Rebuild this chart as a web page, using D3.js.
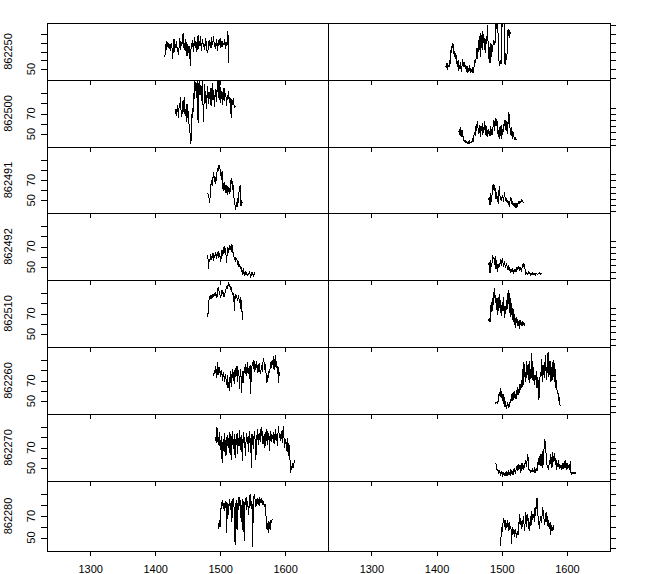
<!DOCTYPE html>
<html><head><meta charset="utf-8">
<script src="https://cdn.jsdelivr.net/npm/d3@7"></script>
<style>
body{margin:0;background:#fff}
svg{display:block}
text{font-family:"Liberation Sans",Arial,sans-serif;font-size:11px;fill:#000}
</style>
</head><body><svg id="c" width="657" height="574"></svg>
<script>
// ---------- data ----------
const sites = ["862250","862500","862491","862492","862510","862260","862270","862280"];
const startLeft  = [1415,1431,1481,1481,1481,1489,1492,1497];
const startRight = [1414,1434,1480,1480,1480,1489,1491,1498];
const xTicks = [1300,1400,1500,1600];
const leftYTicks = [50,60,70,80,90];
const leftYLabels = [50,70];
const rightYTicksTop = [40,50,60,70,80,90,100];
const rightYTicksMid = [40,50,60,70,80,90,100];
const rightYTicksBottom = [40,50,60,70,80,90];

const l862250 = [64,78,72,82,75,80,74,79,71,77, 80,73,61,76,84,70,79,74,82,69, 75,66,78,85,72,81,76,86,91,74, 80,71,84,77,65,79,73,68,76,53, 72,80,75,83,70,78,86,74,81,69, 77,89,73,82,76,88,71,79,84,75, 80,72,78,85,74,70,68,79,83,76, 81,74,86,77,82,88,75,80,73,84, 78,71,83,76,80,85,74,79,82,75, 80,77,84,73,81,76,79,93,57];
const l862500 = [70,74,68,78,72,66,80,75,86,70, 67,77,83,71,86,68,74,62,79,66, 72,60,56,48,40,58,75,66,90,84, 104,92,100,85,106,61,95,104,88,98, 82,96,105,62,75,99,80,92,74,88, 97,79,91,84,95,77,89,100,83,93, 76,87,94,81,90,104,85,105,93,80, 96,84,91,78,89,95,82,90,86,77, 88,83,92,80,86,79,66,84,78,85, 80,75,77];
const l862491 = [57,55,52,47,60,66,70,64,73,78, 68,74,66,71,77,82,79,85,83,80, 76,70,79,62,59,68,63,57,65,60, 55,64,58,62,56,70,66,72,60,65, 54,49,45,41,48,43,52,47,58,62, 65,44,50,47];
const l862492 = [62,48,58,55,63,57,61,59,64,56, 62,60,65,58,63,61,66,59,64,60, 55,63,67,61,66,70,64,68,62,54, 66,69,64,71,67,70,65,72,69,63, 61,58,60,55,59,57,52,56,50,53, 48,51,45,47,42,49,44,41,46,43, 45,41,44,42,46,43,41,44,42,45, 41,43,44,42];
const l862510 = [67,76,84,86,85,88,84,87,89,86, 90,87,91,88,85,93,96,92,90,87, 85,90,93,89,91,86,88,92,94,96, 95,97,99,96,98,93,95,92,88,90, 86,72,89,84,87,85,82,88,84,80, 86,74,83,66,64];
const l862260 = [77,74,80,76,84,79,72,88,81,75, 83,78,73,80,76,70,78,74,69,76, 72,66,75,63,68,60,72,79,64,74, 81,70,78,67,82,73,77,84,69,80, 75,62,81,76,58,73,79,68,83,77, 86,74,80,88,76,82,71,85,57,79, 84,88,81,90,78,86,80,89,83,77, 82,87,79,76,81,85,78,88,92,84, 80,86,71,68,75,72,79,77,83,88, 82,90,85,94,80,87,95,83,89,76, 84,68,78];
const l862270 = [77,80,74,90,83,72,79,85,68,76, 81,55,73,78,66,84,70,62,77,82, 71,79,65,85,74,58,80,86,69,76, 83,60,78,72,84,64,79,71,87,75, 68,82,57,77,85,70,80,62,78,84, 73,81,66,86,75,79,50,83,77,69, 80,86,74,58,82,77,88,72,84,79, 75,90,81,86,73,79,83,70,85,76, 88,72,80,84,67,79,86,75,82,78, 85,73,80,88,77,83,71,84,91,79, 82,76,86,80,74,91,83,70,78,73, 75,66,79,68,62,72,45,51,48,55, 50,53,56,58];
const l862280 = [63,58,66,60,74,83,79,85,77,82, 75,80,84,54,78,82,71,86,80,76, 84,64,79,87,81,74,43,80,85,57, 82,76,88,79,85,68,80,57,86,78, 47,83,80,88,76,84,79,71,85,90, 82,77,84,41,80,88,90,83,78,86, 81,87,84,79,86,85,82,87,83,80, 84,78,81,74,67,58,63,54,65,61, 57,66,64,67,66];

const r862250 = [53,51,57,49,55,52,60,56,72,68, 80,74,78,64,70,62,66,58,52,60, 48,55,50,58,47,53,61,56,52,58, 50,55,47,53,45,51,48,54,46,50, 47,52,45,50,55,60,57,66,74,62, 83,70,88,64,91,78,72,93,80,85, 74,68,88,79,100,80,62,75,57,80, 64,78,70,83,77,82,80,104,96,106, 100,64,58,53,60,56,104,98,106,103, 100,55,68,60,65,94,88,96,85,92];
const r862500 = [60,66,55,68,52,64,58,50,47,45, 46,43,45,42,44,43,46,42,44,43, 45,48,44,52,60,55,70,62,74,79, 58,66,72,52,70,62,75,56,68,64, 79,60,55,70,52,66,58,63,54,70, 62,56,65,71,80,63,75,84,70,78, 58,64,50,68,55,72,49,66,60,74, 70,80,67,62,78,58,85,93,72,64, 56,68,50,62,55,52,49,51,48];
const r862491 = [58,63,50,69,55,66,82,75,84,72, 78,60,71,55,64,52,80,68,58,62, 57,66,60,55,71,63,58,61,54,58, 50,56,47,60,63,52,55,49,53,46, 51,48,53,44,50,52,55,53,56,54, 58,55,57,53];
const r862492 = [61,66,48,69,58,64,77,70,74,60, 76,55,68,50,62,56,64,58,70,60, 66,72,63,58,67,61,56,64,60,55, 58,52,57,48,54,50,56,51,48,53, 50,54,49,57,52,58,55,53,57,55, 52,56,60,64,58,62,50,46,48,45, 47,49,46,48,45,47,46,48,45,47, 46,48,45,47,46,45,47,46,48,46, 47,46];
const r862510 = [79,84,77,98,110,93,115,104,125,132, 108,120,96,115,88,118,100,122,92,105, 86,110,95,118,84,102,90,112,97,124, 106,129,92,115,85,108,96,80,98,72, 90,68,85,76,82,70,78,66,80,72, 75,70,78,73,76,72,74];
const r862260 = [55,54,56,55,57,54,60,72,65,78, 62,74,58,69,52,64,47,58,45,50, 56,46,52,48,60,55,64,70,58,66, 74,62,68,60,72,80,67,76,70,85, 75,92,78,110,84,120,96,104,88,122, 100,115,92,123,86,110,95,135,105,90, 112,84,100,92,106,78,96,88,59,82, 105,96,125,88,115,100,120,95,132,110, 92,118,137,96,104,122,88,112,90,120, 96,124,88,110,78,92,70,74,58,64, 52,49];
const r862270 = [66,58,52,56,48,54,50,47,52,49, 46,51,48,44,50,47,53,45,49,52, 46,50,44,55,48,52,46,50,57,53, 48,56,60,52,64,55,58,62,50,56, 66,58,54,62,57,70,64,60,72,80, 60,52,56,50,54,52,55,51,53,56, 50,54,58,52,56,74,62,70,80,60, 66,85,58,76,92,104,96,80,66,58, 62,55,70,64,80,72,58,84,68,76, 82,62,74,55,66,60,70,56,64,58, 62,54,60,66,56,68,58,70,62,55, 66,58,62,54,68,50,48,51,49,50, 48,50,49,50];
const r862280 = [42,52,60,55,64,68,60,66,57,63, 59,66,62,56,64,58,61,44,55,60, 53,57,51,58,54,50,56,52,58,72, 62,68,58,65,60,70,63,56,66,74, 60,68,72,58,64,56,70,62,75,66, 68,72,64,78,70,82,87,74,68,62, 58,70,66,64,72,78,70,66,62,68, 74,64,70,60,66,58,64,52,62,56, 60,57,62];

const leftSeries  = [l862250,l862500,l862491,l862492,l862510,l862260,l862270,l862280];
const rightSeries = [r862250,r862500,r862491,r862492,r862510,r862260,r862270,r862280];

// ---------- layout ----------
const svg = d3.select("#c");
const rowTop = [23,80,147,213,280,347,414,481];
const rowBot = [80,147,213,280,347,414,481,551];
const colX = [[47,328],[328,610]];
const xDomain = [1233.5,1666];
const leftDomain = [37.5,102.5];
const rightMidDomain = [36.4,145];

const defs = svg.append("defs");
const line = (x,y)=>d3.line().x((d,i)=>x(d.year)).y(d=>y(d.v));

function toPts(arr,start){ return arr.map((v,i)=>({year:start+i,v:v})); }

for(let r=0;r<8;r++){
  const top=rowTop[r], bot=rowBot[r];
  for(let c=0;c<2;c++){
    const [x0,x1]=colX[c];
    const x=d3.scaleLinear().domain(xDomain).range([x0,x1]);
    let ydom = leftDomain;
    if(c===1 && r>0 && r<7) ydom = rightMidDomain;
    const y=d3.scaleLinear().domain(ydom).range([bot,top]);
    const id="clip"+r+"_"+c;
    defs.append("clipPath").attr("id",id).append("rect")
      .attr("x",x0).attr("y",top).attr("width",x1-x0).attr("height",bot-top);
    const data = c===0 ? toPts(leftSeries[r],startLeft[r]) : toPts(rightSeries[r],startRight[r]);
    svg.append("path").datum(data)
      .attr("clip-path","url(#"+id+")")
      .attr("d",line(x,y))
      .attr("fill","none").attr("stroke","#000").attr("stroke-width",1)
      .attr("shape-rendering","crispEdges");

    // x axis ticks at bottom of panel
    const xa = svg.append("g").attr("transform","translate(0,"+bot+")")
      .call(d3.axisBottom(x).tickValues(xTicks).tickSize(5).tickPadding(9)
        .tickFormat(r===7? d3.format("d") : ""));
    xa.select(".domain").remove();
    xa.selectAll("line").attr("stroke","#000").attr("shape-rendering","crispEdges");
    xa.selectAll("text").attr("font-size",11).attr("font-family",'"Liberation Sans",Arial,sans-serif').attr("fill","#000");

    if(c===0){
      const ya = svg.append("g").attr("transform","translate("+x0+",0)")
        .call(d3.axisLeft(y).tickValues(leftYTicks).tickSize(6).tickFormat(""));
      ya.select(".domain").remove();
      ya.selectAll("line").attr("stroke","#000").attr("shape-rendering","crispEdges");
      const labs = r===0 ? [50] : leftYLabels;
      labs.forEach(v=>{
        svg.append("text").attr("transform","translate(35,"+y(v)+") rotate(-90)")
          .attr("text-anchor","middle").text(v);
      });
      svg.append("text").attr("transform","translate(11.5,"+((top+bot)/2)+") rotate(-90)")
        .attr("text-anchor","middle").text(sites[r]);
    } else {
      const tv = r===0 ? rightYTicksTop : (r===7 ? rightYTicksBottom : rightYTicksMid);
      const ya = svg.append("g").attr("transform","translate("+x1+",0)")
        .call(d3.axisRight(y).tickValues(tv).tickSize(6).tickFormat(""));
      ya.select(".domain").remove();
      ya.selectAll("line").attr("stroke","#000").attr("shape-rendering","crispEdges");
    }
    svg.append("rect").attr("x",x0).attr("y",top).attr("width",x1-x0).attr("height",bot-top)
      .attr("fill","none").attr("stroke","#000").attr("stroke-width",1).attr("shape-rendering","crispEdges");
  }
}
</script>
</body></html>
